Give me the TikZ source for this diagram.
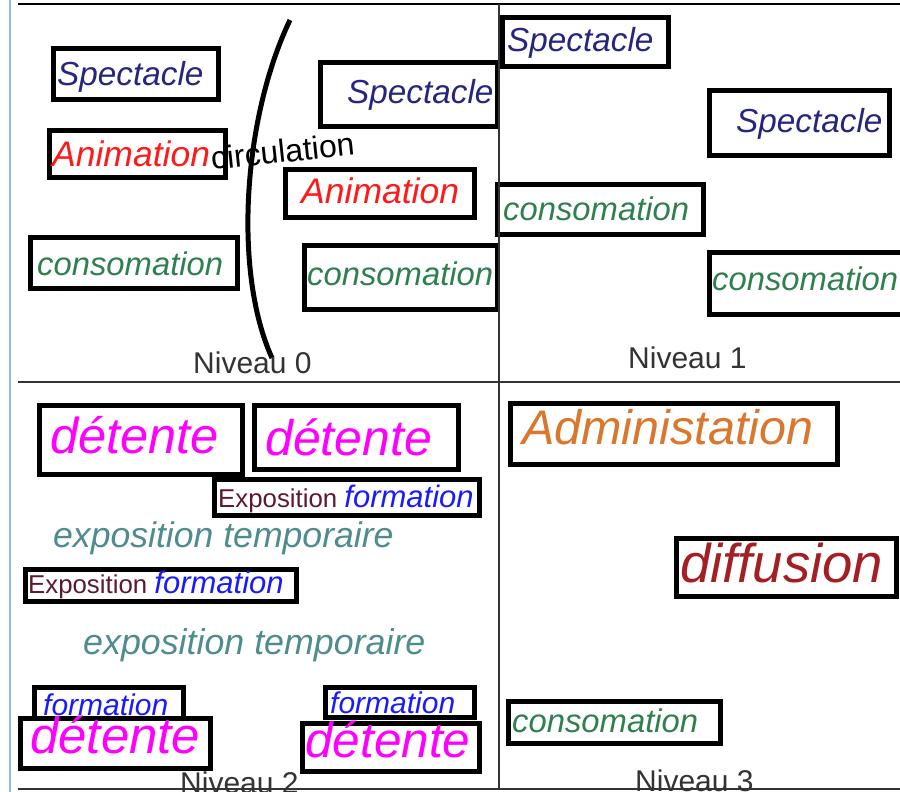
\documentclass[tikz,border=0pt]{standalone}
\usepackage{fontspec}
\setmainfont{Liberation Sans}
\usetikzlibrary{positioning}
\definecolor{bleuS}{HTML}{26267F}
\definecolor{rougeA}{HTML}{FF1A1A}
\definecolor{vertC}{HTML}{2F7F4F}
\definecolor{magD}{HTML}{FF00FF}
\definecolor{brunE}{HTML}{5C1A2E}
\definecolor{bleuF}{HTML}{1A1AFF}
\definecolor{tealT}{HTML}{4F8C8C}
\definecolor{orangeA}{HTML}{D9772E}
\definecolor{rougeD}{HTML}{A31F24}
\definecolor{grisN}{HTML}{333333}
\definecolor{bleuB}{HTML}{8FB8E8}
\tikzset{
  cadre/.style={draw, line width=5pt, fill=white, inner sep=0pt},
  mot/.style={inner sep=0pt, anchor=base west, font=\fontsize{#1}{#1}\selectfont\itshape},
  droit/.style={inner sep=0pt, anchor=base west, font=\fontsize{#1}{#1}\selectfont},
  niveau/.style={droit=30, text=grisN},
  trait/.style={line width=#1, draw=grisN}
}

\begin{document}
\begin{tikzpicture}[x=1pt, y=-1pt]
    \useasboundingbox (0,0) rectangle (900,792);
    \clip (0,0) rectangle (900,792);
    % niveau 0
    \node[cadre, minimum width=165pt, minimum height=51pt] (b1) at (136,74) {};
    \node[mot=33.3, text=bleuS] (t1) at (57,85) {Spectacle};
    \node[cadre, minimum width=176pt, minimum height=47pt] (b2) at (137.5,154) {};
    \node[mot=35.5, text=rougeA] (t2) at (52,166) {Animation};
    \node[cadre, minimum width=207pt, minimum height=51pt] (b3) at (134,263) {};
    \node[mot=32.8, text=vertC] (t3) at (37,275) {consomation};
    \node[cadre, minimum width=177pt, minimum height=64pt] (b4) at (409,94.5) {};
    \node[mot=33.3, text=bleuS] (t4) at (347,103) {Spectacle};
    \node[cadre, minimum width=189pt, minimum height=48pt] (b5) at (380,193.5) {};
    \node[mot=35.5, text=rougeA] (t5) at (301,203) {Animation};
    \node[cadre, minimum width=193pt, minimum height=64pt] (b6) at (401,277.5) {};
    \node[mot=32.8, text=vertC] (t6) at (307,285) {consomation};
    \node[droit=32, rotate=6] (circ) at (212,170) {circulation};
    \draw[line width=5pt] (290,20) .. controls (243,118) and (233,272) .. (272,358);
    \node[niveau] (n0) at (193,373) {Niveau 0};

    % niveau 1
    \node[cadre, minimum width=166pt, minimum height=49pt] (b7) at (585.5,42) {};
    \node[mot=33.3, text=bleuS] (t7) at (507,52) {Spectacle};
    \node[cadre, minimum width=180pt, minimum height=65pt] (b8) at (799.5,123) {};
    \node[mot=33.3, text=bleuS] (t8) at (736,132) {Spectacle};
    \node[cadre, minimum width=206pt, minimum height=50pt] (b9) at (600.5,209.5) {};
    \node[mot=32.8, text=vertC] (t9) at (503,220) {consomation};
    \node[cadre, minimum width=203pt, minimum height=62pt] (b10) at (811,283.5) {};
    \node[mot=32.8, text=vertC] (t10) at (712,290) {consomation};
    \node[niveau] (n1) at (628,368) {Niveau 1};

    % niveau 2
    \node[niveau] (n2) at (180,793) {Niveau 2};
    \node[cadre, minimum width=203pt, minimum height=69pt] (b11) at (141,440) {};
    \node[mot=50.5, text=magD] (t11) at (50,453) {détente};
    \node[cadre, minimum width=204pt, minimum height=64pt] (b12) at (356.5,437.5) {};
    \node[mot=50, text=magD] (t12) at (265,455) {détente};
    \node[cadre, minimum width=265pt, minimum height=36pt] (b13) at (347,497.5) {};
    \node[droit=25.8, text=brunE] (t13) at (218,507) {Exposition \textcolor{bleuF}{\fontsize{31}{31}\selectfont\itshape formation}};
    \node[mot=35.6, text=tealT] (t14) at (53,547) {exposition temporaire};
    \node[cadre, minimum width=271pt, minimum height=32pt] (b15) at (161,585.5) {};
    \node[droit=25.8, text=brunE] (t15) at (28,593) {Exposition \textcolor{bleuF}{\fontsize{31}{31}\selectfont\itshape formation}};
    \node[mot=35.8, text=tealT] (t16) at (83,654) {exposition temporaire};
    \node[cadre, minimum width=149pt, minimum height=32pt] (b17) at (109,703.5) {};
    \node[mot=30, text=bleuF] (t17) at (43,715) {formation};
    \node[cadre, minimum width=190pt, minimum height=50pt] (b18) at (115.5,743.5) {};
    \node[mot=51, text=magD] (t18) at (30,753) {détente};
    \node[cadre, minimum width=149pt, minimum height=30pt] (b19) at (400,702.5) {};
    \node[mot=30, text=bleuF] (t19) at (330,713) {formation};
    \node[cadre, minimum width=177pt, minimum height=48pt] (b20) at (391,747.5) {};
    \node[mot=49.5, text=magD] (t20) at (305,757) {détente};

    % niveau 3
    \node[cadre, minimum width=327pt, minimum height=61pt] (b21) at (674,434) {};
    \node[mot=48.5, text=orangeA] (t21) at (522,444) {Administation};
    \node[cadre, minimum width=220pt, minimum height=58pt] (b22) at (786.5,567.5) {};
    \node[mot=54.5, text=rougeD] (t22) at (680,582) {diffusion};
    \node[cadre, minimum width=212pt, minimum height=42pt] (b23) at (614.5,722.5) {};
    \node[mot=32.8, text=vertC] (t23) at (512,732) {consomation};
    \node[niveau] (n3) at (635,791) {Niveau 3};

    % cadre general
    \draw[line width=1.5pt, draw=bleuB] (10,0) -- (10,792);
    \draw[line width=2.5pt] (18,4) -- (900,4);
    \draw[trait=1.5pt] (18,382) -- (900,382);
    \draw[trait=2.5pt] (18,789) -- (900,789);
    \draw[trait=1.5pt] (499,4) -- (499,789);
  \end{tikzpicture}
\end{document}
